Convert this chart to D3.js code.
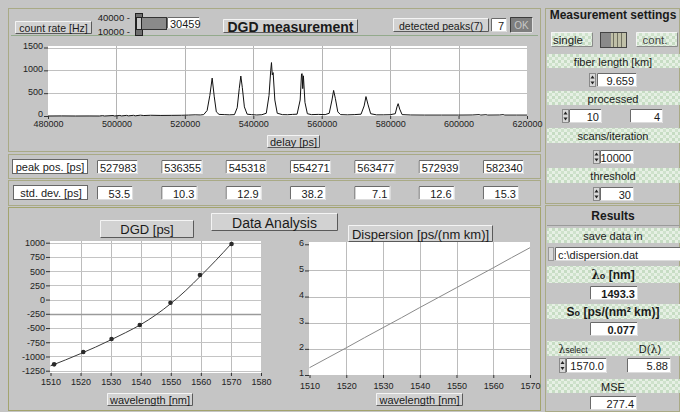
<!DOCTYPE html>
<html><head><meta charset="utf-8">
<script src="https://cdn.jsdelivr.net/npm/d3@7"></script>
<style>
body{margin:0;background:#c5c5c5;}
svg{display:block;font-family:"Liberation Sans",Arial,sans-serif;}
</style></head>
<body><svg id="c" width="680" height="412"></svg>
<script>
// ---------------- DATA ----------------
const traceDelay = [480000,484000,488000,492000,495000,496000,496500,499000,499500,501000,501500,503000,503500,505000,505500,507000,508000,510000,513000,516000,519000,521000,523000,524500,525500,526500,527300,527983,528600,529200,530000,531500,533000,534500,535300,535900,536355,536800,537400,538200,539500,541000,542500,543800,544600,545100,545318,545550,545800,546300,547000,548500,550000,551500,552800,553700,554100,554271,554450,554650,555100,555800,557000,559000,561000,562200,563000,563477,564000,564700,565500,567500,569500,571500,572400,572939,573500,574300,576000,578000,580000,581500,582000,582340,582800,583500,586000,590000,595000,600000,604000,606000,606500,608000,608500,612000,613000,613500,617000,620000];
const traceCount = [0,2,0,1,0,8,0,10,0,12,2,14,3,15,4,18,10,16,12,14,16,20,25,22,30,120,450,830,420,90,35,30,25,30,180,600,875,620,200,40,30,22,28,60,450,1000,1170,900,950,350,60,30,28,35,40,350,920,930,600,880,300,50,30,35,30,60,350,560,380,90,30,25,30,40,220,425,260,50,25,25,28,50,200,270,150,30,22,20,20,20,22,30,20,28,20,22,30,20,20,20];
const delayTicks = [480000,500000,520000,540000,560000,580000,600000,620000];
const countTicks = [0,500,1000,1500];

const peakPos = ["527983","536355","545318","554271","563477","572939","582340"];
const stdDev = ["53.5","10.3","12.9","38.2","7.1","12.6","15.3"];

const dgdWavelength = [1511.2,1520.9,1530.3,1539.7,1549.9,1559.7,1570.2];
const dgdValues = [-1138,-922,-693,-447,-55,432,977];
const fitWavelength = [1510,1515,1520,1525,1530,1535,1540,1545,1550,1555,1560,1565,1570];
const fitDGD = [-1165,-1060,-950,-835,-710,-580,-440,-270,-70,160,420,690,975];
const dgdXTicks = [1510,1520,1530,1540,1550,1560,1570,1580];
const dgdYTicks = [1000,750,500,250,0,-250,-500,-750,-1000,-1250];

const dispWavelength = [1510,1515,1520,1525,1530,1535,1540,1545,1550,1555,1560,1565,1570];
const dispValues = [1.28,1.66,2.04,2.43,2.81,3.19,3.58,3.96,4.34,4.72,5.10,5.49,5.87];
const dispXTicks = [1510,1520,1530,1540,1550,1560,1570];
const dispYTicks = [1,2,3,4,5,6];

// ---------------- HELPERS ----------------
const svg = d3.select("#c");
const defs = svg.append("defs");
const pat = defs.append("pattern").attr("id","gp").attr("width",6).attr("height",6).attr("patternUnits","userSpaceOnUse");
pat.append("rect").attr("width",6).attr("height",6).attr("fill","#e6f0e4");
pat.append("rect").attr("width",3).attr("height",3).attr("fill","#c6dcc3");
pat.append("rect").attr("x",3).attr("y",3).attr("width",3).attr("height",3).attr("fill","#cfe2cc");
const plain = d => String(d);

function bevel(x,y,w,h,fill,light,dark){
  svg.append("rect").attr("x",x).attr("y",y).attr("width",w).attr("height",h).attr("fill",fill);
  svg.append("path").attr("d",`M${x+.5},${y+h-.5}V${y+.5}H${x+w-.5}`).attr("stroke",light).attr("fill","none");
  svg.append("path").attr("d",`M${x+w-.5},${y+.5}V${y+h-.5}H${x+.5}`).attr("stroke",dark).attr("fill","none");
}
function txt(x,y,s,size,anchor,weight,color){
  return svg.append("text").attr("x",x).attr("y",y).attr("font-size",size).attr("text-anchor",anchor||"middle")
    .attr("dominant-baseline","central").attr("font-weight",weight||"normal").attr("fill",color||"#1a1a1a").text(s);
}
function labelBox(x,y,w,h,s,size,weight){
  bevel(x,y,w,h,"#d2d2d2","#f4f4f4","#5a5a5a");
  txt(x+w/2,y+h/2+.5,s,size,"middle",weight);
}
function numBox(x,y,w,h,s,weight,anchor){
  bevel(x,y,w,h,"#ffffff","#6a6a6a","#dcdcdc");
  if(anchor==="start") txt(x+3,y+h/2+.5,s,11,"start",weight);
  else txt(x+w-3,y+h/2+.5,s,11,"end",weight);
}
function spinner(x,y,h){
  svg.append("rect").attr("x",x+.5).attr("y",y+.5).attr("width",6).attr("height",h-1).attr("fill","#d8d8d8").attr("stroke","#8a8a8a");
  const m=y+h/2;
  svg.append("path").attr("d",`M${x+1.5},${m-1.5}L${x+3.5},${m-4.5}L${x+5.5},${m-1.5}Z`).attr("fill","#222");
  svg.append("path").attr("d",`M${x+1.5},${m+1.5}L${x+3.5},${m+4.5}L${x+5.5},${m+1.5}Z`).attr("fill","#222");
}
function band(x,y,w,h){
  svg.append("rect").attr("x",x).attr("y",y).attr("width",w).attr("height",h).attr("fill","url(#gp)");
}
function frame(x,y,w,h,c){
  svg.append("rect").attr("x",x+.5).attr("y",y+.5).attr("width",w-1).attr("height",h-1).attr("fill","none").attr("stroke",c||"#a2a579");
}
function styleAxis(a,dy){
  a.select(".domain").remove();
  a.selectAll("text").attr("font-size",9).attr("fill","#222").attr("font-family","Liberation Sans, Arial");
  if(dy) a.selectAll("text").attr("dy",dy);
  a.selectAll("line").attr("stroke","#333");
}

// ---------------- FRAMES ----------------
frame(8,8,533,144,"#a9aa86");
svg.append("line").attr("x1",11).attr("x2",538).attr("y1",35.5).attr("y2",35.5).attr("stroke","#93aa8c");
frame(8,154,533,25,"#a9aa86");
frame(8,180,533,26,"#a9aa86");
frame(8,207,533,204,"#a3a46e");
frame(545,8,135,196,"#a9aa86");
frame(545,205,135,207,"#a9aa86");

// ---------------- TOP ROW ----------------
labelBox(15,21,77,13,"count rate [Hz]",10.5);
txt(130,17,"40000 -",9.5,"end");
txt(130,31,"10000 -",9.5,"end");
svg.append("rect").attr("x",135.5).attr("y",13.5).attr("width",7).attr("height",22).attr("fill","#6e6e6e").attr("stroke","#222");
svg.append("rect").attr("x",136.5).attr("y",17.5).attr("width",30).attr("height",12).attr("fill","#8a8a8a").attr("stroke","#333");
svg.append("rect").attr("x",136.5).attr("y",17.5).attr("width",5).attr("height",12).attr("fill","#c8c8c8").attr("stroke","#222");
numBox(167,17,33,12,"30459",null,"start");
labelBox(223,19,135,14,"DGD measurement",14,"bold");
labelBox(393,18,96,14,"detected peaks(7)",10.5);
numBox(491,18,16,14,"7");
bevel(510,17,23,16,"#7e7e7e","#3c3c3c","#e0e0e0");
txt(521.5,25.5,"OK",10,"middle","normal","#c8c8c8");

// ---------------- PLOT 1 ----------------
const x1 = d3.scaleLinear().domain([480000,620000]).range([48,527]);
const y1 = d3.scaleLinear().domain([0,1500]).range([116,47.5]);
svg.append("rect").attr("x",48).attr("y",46).attr("width",479).attr("height",70).attr("fill","#fff");
svg.append("g").selectAll("line").data(delayTicks.slice(1,-1)).join("line")
  .attr("x1",d=>Math.round(x1(d))+.5).attr("x2",d=>Math.round(x1(d))+.5).attr("y1",46).attr("y2",116).attr("stroke","#b4b4b4");
svg.append("g").selectAll("line").data(countTicks.slice(1)).join("line")
  .attr("x1",48).attr("x2",527).attr("y1",d=>Math.round(y1(d))+.5).attr("y2",d=>Math.round(y1(d))+.5).attr("stroke","#c0c0c0");
svg.append("path").datum(traceDelay.map((d,i)=>[d,traceCount[i]]))
  .attr("d",d3.line().x(d=>x1(d[0])).y(d=>y1(d[1]))).attr("fill","none").attr("stroke","#111").attr("stroke-width",1);
const ax1 = svg.append("g").attr("transform","translate(48,0)").call(d3.axisLeft(y1).tickValues(countTicks).tickSize(4).tickPadding(1).tickFormat(plain));
const bx1 = svg.append("g").attr("transform","translate(0,116)").call(d3.axisBottom(x1).tickValues(delayTicks).tickSize(3).tickPadding(2).tickFormat(plain));
styleAxis(ax1,"0.1em"); styleAxis(bx1);
labelBox(267,135,53,13,"delay [ps]",11);

// ---------------- TABLE ----------------
const cell = d3.scaleBand().domain(d3.range(7)).range([97,524]).paddingInner(0.362);
svg.append("rect").attr("x",12.5).attr("y",159.5).attr("width",75).attr("height",14).attr("fill","#fff").attr("stroke","#666");
txt(50,167,"peak pos. [ps]",11);
svg.append("rect").attr("x",13.5).attr("y",185.5).attr("width",74).attr("height",14).attr("fill","#fff").attr("stroke","#666");
txt(51,193,"std. dev. [ps]",11);
peakPos.forEach((v,i)=>numBox(cell(i),160,cell.bandwidth(),14,v,null,"start"));
stdDev.forEach((v,i)=>numBox(cell(i),186,cell.bandwidth()-5,14,v));

// ---------------- BOTTOM PANEL ----------------
labelBox(211,213,127,18,"Data Analysis",14);

// DGD plot
const x2 = d3.scaleLinear().domain([1510,1580]).range([50.5,261]);
const y2 = d3.scaleLinear().domain([-1250,1000]).range([370.7,242.7]);
labelBox(100,220,94,18,"DGD [ps]",13);
svg.append("rect").attr("x",50).attr("y",241).attr("width",211).attr("height",132).attr("fill","#fff");
svg.append("g").selectAll("line").data(dgdXTicks.slice(1,-1)).join("line")
  .attr("x1",d=>Math.round(x2(d))+.5).attr("x2",d=>Math.round(x2(d))+.5).attr("y1",241).attr("y2",373).attr("stroke","#bcbcbc");
svg.append("g").selectAll("line").data(dgdYTicks).join("line")
  .attr("x1",50).attr("x2",261).attr("y1",d=>Math.round(y2(d))+.5).attr("y2",d=>Math.round(y2(d))+.5)
  .attr("stroke",d=>d===-250?"#9a9a9a":"#c4c4c4").attr("stroke-width",d=>d===-250?1.5:1);
svg.append("path").datum(fitWavelength.map((d,i)=>[d,fitDGD[i]]))
  .attr("d",d3.line().curve(d3.curveMonotoneX).x(d=>x2(d[0])).y(d=>y2(d[1]))).attr("fill","none").attr("stroke","#3a3a3a").attr("stroke-width",1);
svg.append("g").selectAll("circle").data(dgdWavelength).join("circle")
  .attr("cx",d=>x2(d)).attr("cy",(d,i)=>y2(dgdValues[i])).attr("r",2.3).attr("fill","#2a2a2a");
const ax2 = svg.append("g").attr("transform","translate(50,0)").call(d3.axisLeft(y2).tickValues(dgdYTicks).tickSize(4).tickPadding(1).tickFormat(plain));
const bx2 = svg.append("g").attr("transform","translate(0,373)").call(d3.axisBottom(x2).tickValues(dgdXTicks).tickSize(3).tickPadding(3).tickFormat(plain));
labelBox(107,393,86,13,"wavelength [nm]",11);

// Dispersion plot
const x3 = d3.scaleLinear().domain([1510,1570]).range([309.5,530]);
const y3 = d3.scaleLinear().domain([1,6]).range([375,244.3]);
labelBox(348,225,145,17,"Dispersion [ps/(nm km)]",13);
svg.append("rect").attr("x",309).attr("y",242).attr("width",221).attr("height",133).attr("fill","#fff");
svg.append("g").selectAll("line").data(dispXTicks.slice(1,-1)).join("line")
  .attr("x1",d=>Math.round(x3(d))+.5).attr("x2",d=>Math.round(x3(d))+.5).attr("y1",242).attr("y2",375).attr("stroke","#bcbcbc");
svg.append("g").selectAll("line").data(dispYTicks.slice(1,-1)).join("line")
  .attr("x1",309).attr("x2",530).attr("y1",d=>Math.round(y3(d))+.5).attr("y2",d=>Math.round(y3(d))+.5).attr("stroke","#bcbcbc");
svg.append("path").datum(dispWavelength.map((d,i)=>[d,dispValues[i]]))
  .attr("d",d3.line().x(d=>x3(d[0])).y(d=>y3(d[1]))).attr("fill","none").attr("stroke","#8a8a8a").attr("stroke-width",1);
const ax3 = svg.append("g").attr("transform","translate(309,0)").call(d3.axisLeft(y3).tickValues(dispYTicks).tickSize(4).tickPadding(1).tickFormat(plain));
const bx3 = svg.append("g").attr("transform","translate(0,375)").call(d3.axisBottom(x3).tickValues(dispXTicks).tickSize(3).tickPadding(5).tickFormat(plain));
labelBox(376,393,87,13,"wavelength [nm]",11);
styleAxis(ax2); styleAxis(bx2); styleAxis(ax3,"0.1em"); styleAxis(bx3);

// ---------------- RIGHT PANEL ----------------
txt(613,15,"Measurement settings",12,"middle","bold");
bevel(551,32,42,15,"url(#gp)","#f4f4f4","#8a8a8a");
txt(568,40,"single",11.5);
svg.append("rect").attr("x",600.5).attr("y",32.5).attr("width",26).attr("height",15).attr("fill","#8a8a8a").attr("stroke","#444");
svg.append("rect").attr("x",611).attr("y",33).attr("width",15).attr("height",14).attr("fill","#c0c0a8");
[613,617,621].forEach(v=>svg.append("line").attr("x1",v+.5).attr("x2",v+.5).attr("y1",33).attr("y2",47).attr("stroke","#707060"));
bevel(636,32,42,15,"url(#gp)","#f4f4f4","#8a8a8a");
txt(655,40,"cont.",11.5,"middle","normal","#444");

band(547,54,133,14); txt(613,61.5,"fiber length [km]",11);
spinner(589,73,14); numBox(597,73,40,14,"9.659");
band(547,91,133,14); txt(613,98.5,"processed",11);
spinner(562,109,14); numBox(569,109,33,14,"10"); numBox(630,109,33,14,"4");
band(547,128,133,15); txt(613,136,"scans/iteration",11);
spinner(593,150,14); numBox(600,150,34,14,"10000");
band(547,168,133,15); txt(613,176,"threshold",11);
spinner(593,187,14); numBox(600,187,34,14,"30");

// Results
svg.append("line").attr("x1",547).attr("x2",680).attr("y1",225.5).attr("y2",225.5).attr("stroke","#9a9a9a");
txt(613,216,"Results",12,"middle","bold");
band(547,228,133,15); txt(613,236,"save data in",11);
svg.append("rect").attr("x",548.5).attr("y",247.5).attr("width",5).attr("height",13).attr("fill","#d8d8d8").attr("stroke","#999");
numBox(555,247,126,14,"c:\\dispersion.dat",null,"start");
band(547,266,133,17);
const l0 = txt(613,275,"",12,"middle","bold");
l0.append("tspan").attr("font-family","DejaVu Serif, serif").text("λ");
l0.append("tspan").attr("font-size",9).attr("dy",1).text("o");
l0.append("tspan").attr("dy",-1).text(" [nm]");
numBox(590,286,48,14,"1493.3","bold");
band(547,304,133,15);
const s0 = txt(613,312,"",12,"middle","bold");
s0.append("tspan").text("S");
s0.append("tspan").attr("font-size",9).attr("dy",1).text("o");
s0.append("tspan").attr("dy",-1).text(" [ps/(nm² km)]");
numBox(590,322,48,14,"0.077","bold");
band(547,341,133,15);
const ls = txt(573,348.5,"",11,"middle");
ls.append("tspan").attr("font-family","DejaVu Serif, serif").text("λ");
ls.append("tspan").attr("font-size",8.5).attr("dy",1).text("select");
const dl = txt(650,348.5,"",11,"middle");
dl.append("tspan").text("D(");
dl.append("tspan").attr("font-family","DejaVu Serif, serif").text("λ");
dl.append("tspan").text(")");
spinner(559,358,15); numBox(566,358,41,15,"1570.0"); numBox(627,358,44,15,"5.88");
band(547,379,133,14); txt(613,386.5,"MSE",11);
numBox(590,396,47,14,"277.4");
</script>
</body></html>
